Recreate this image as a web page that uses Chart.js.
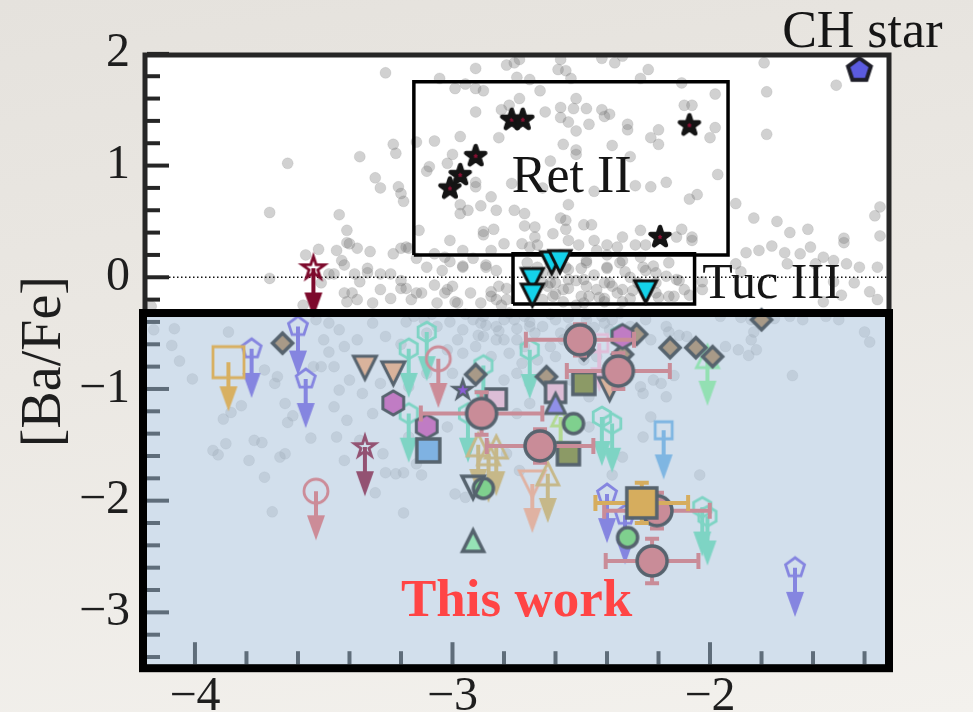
<!DOCTYPE html>
<html>
<head>
<meta charset="utf-8">
<title>[Ba/Fe] versus [Fe/H]</title>
<script src="https://cdn.jsdelivr.net/npm/chart.js@4.4.1/dist/chart.umd.min.js"></script>
<style>
  html, body { margin: 0; padding: 0; }
  body {
    width: 973px; height: 712px; overflow: hidden;
    background: linear-gradient(172deg, #e5e2dd 0%, #ebe8e3 45%, #f3f1ed 100%);
  }
  canvas { display: block; }
</style>
</head>
<body>
<canvas id="chart" width="973" height="712"></canvas>
<script>
// ---------- axes ----------
const xTicks = [-4, -3, -2];
const yTicks = [-3, -2, -1, 0, 1, 2];
const xLimits = [-4.194, -1.305];
const yLimits = [-3.5, 1.99];
const litPanelTop = -0.32;   // upper edge of the literature panel
const arrowLength = 0.44;    // upper-limit arrows, in dex

// ---------- Milky Way halo stars: [Fe/H], [Ba/Fe] ----------
const haloStars = [
  [-3.64,1.02],[-3.71,0.58],
  [-3.26,1.83],[-2.91,1.87],[-2.79,1.90],[-2.76,1.92],[-2.74,1.95],[-2.58,1.95],[-2.59,1.86],[-2.56,1.85],
  [-2.54,1.78],[-2.42,1.96],[-2.37,1.92],[-2.34,1.98],[-2.24,1.86],[-2.27,1.78],[-3.05,1.78],[-2.99,1.69],
  [-2.95,1.73],[-2.91,1.69],[-2.88,1.67],[-2.75,1.79],[-2.70,1.77],[-2.66,1.67],[-2.74,1.60],[-2.78,1.54],
  [-2.81,1.50],[-2.91,1.48],[-2.64,1.48],[-2.58,1.52],[-2.53,1.51],[-2.48,1.51],[-2.52,1.60],[-2.42,1.50],
  [-2.39,1.46],[-2.41,1.44],[-2.58,1.43],[-2.55,1.39],[-2.47,1.37],[-2.52,1.31],[-2.32,1.37],[-2.32,1.32],
  [-2.23,1.25],[-2.20,1.32],[-2.20,1.19],[-2.38,1.18],[-2.57,1.19],[-2.52,1.14],[-2.52,1.10],[-2.97,1.26],
  [-3.07,1.22],[-3.14,1.21],[-3.23,1.19],[-3.22,1.11],[-3.36,1.08],[-3.00,1.10],[-2.82,1.25],[-2.62,1.04],
  [-2.31,1.08],[-3.02,1.02],[-3.09,0.99],[-3.10,0.95],[-3.30,0.89],[-3.28,0.80],[-3.21,0.81],[-3.20,0.75],
  [-3.19,0.68],[-2.91,0.85],[-2.91,0.81],[-2.77,0.84],[-2.65,0.80],[-2.45,0.77],[-2.29,0.82],[-2.23,0.81],
  [-2.85,0.72],[-2.97,0.65],[-2.94,0.60],[-2.89,0.64],[-2.83,0.60],[-2.76,0.60],[-2.72,0.57],[-2.55,0.65],
  [-2.58,0.53],[-2.56,0.51],[-2.49,0.47],[-2.46,0.47],[-2.27,0.42],[-3.44,0.56],[-3.41,0.42],[-3.13,0.42],
  [-2.88,0.41],[-2.84,0.43],[-2.72,0.46],[-2.68,0.45],[-2.56,0.43],
  [-1.79,1.92],[-1.51,1.72],[-1.78,1.66],[-2.11,1.74],[-1.98,1.64],[-2.10,1.54],[-2.07,1.54],[-1.98,1.34],
  [-2.00,1.25],[-1.78,1.28],[-1.97,0.92],[-2.17,0.85],[-2.08,0.70],[-2.05,0.74],[-1.90,0.66],[-1.83,0.53],
  [-1.74,0.50],[-1.69,0.40],[-1.62,0.43],[-1.34,0.63],[-2.11,0.43],[-2.07,0.36],[-1.48,0.35],[-1.34,0.37],
  [-1.36,0.55],
  [-3.57,0.20],[-3.52,0.25],[-3.71,-0.01],[-3.51,-0.05],[-3.58,-0.25],
  [-3.41,0.31],[-3.37,0.26],[-3.43,0.15],[-3.48,0.03],[-3.36,-0.04],[-3.33,0.04],[-3.24,0.03],[-3.20,-0.03],
  [-3.20,0.26],[-3.17,0.26],[-3.41,-0.22],[-3.39,-0.14],[-3.18,-0.10],[-3.14,-0.14],[-3.07,-0.07],[-3.03,-0.14],
  [-3.00,-0.08],[-2.98,-0.23],[-2.96,0.10],[-3.01,0.14],[-3.07,0.21],[-3.01,0.33],[-2.97,0.57],[-4.17,-0.26],
  [-2.88,0.38],[-2.73,0.30],[-2.68,0.36],[-2.61,0.39],[-2.55,0.33],[-2.45,0.33],[-2.40,0.29],[-2.34,0.36],
  [-2.29,0.29],[-2.13,0.36],[-2.07,0.33],[-2.87,0.09],[-2.82,-0.08],[-2.85,-0.17],[-2.79,-0.20],
  [-2.63,-0.08],[-2.60,-0.05],[-2.55,-0.10],[-2.49,-0.02],[-2.44,-0.11],[-2.39,-0.05],[-2.34,-0.11],[-2.55,0.07],
  [-2.48,0.13],[-2.40,0.08],[-2.35,0.13],[-2.26,0.09],[-2.21,0.04],[-2.16,0.13],[-2.13,-0.02],[-2.21,-0.14],
  [-2.16,-0.17],[-2.10,-0.11],[-2.61,-0.17],[-2.50,-0.17],[-2.41,-0.19],[-2.31,-0.19],[-2.65,0.04],[-2.71,0.13],
  [-4.16,-0.47],[-4.08,-0.46],[-4.09,-0.61],[-4.06,-0.75],[-3.87,-0.49],[-4.01,-0.91],[-3.73,-0.83],[-3.68,-0.89],
  [-3.54,-0.80],[-3.51,-0.80],[-3.65,-1.13],[-3.62,-1.24],[-3.64,-1.30],[-3.69,-0.95],[-3.82,-1.15],[-3.89,-1.27],
  [-3.86,-1.21],[-3.55,-1.44],[-3.77,-1.46],[-3.74,-1.48],[-3.93,-1.55],[-3.91,-1.59],[-3.88,-1.49],[-3.67,-1.61],
  [-3.65,-1.58],[-3.79,-1.64],[-3.73,-1.79],[-3.48,-0.67],[-3.50,-0.56],[-3.48,-0.41],[-3.53,-0.38],[-3.70,-2.10],
  [-1.86,0.22],[-1.81,0.24],[-1.76,0.28],[-1.71,0.22],[-1.65,0.21],[-1.61,0.27],[-1.56,0.18],[-1.52,0.15],
  [-1.47,0.12],[-1.48,0.31],[-1.70,0.12],[-1.59,0.12],[-1.42,0.09],[-1.35,0.09],[-1.38,-0.13],[-1.35,-0.20],
  [-1.49,-0.16],[-1.56,-0.22],[-1.44,-0.05],[-1.52,-0.04],[-2.03,-0.11],[-2.03,-0.04],[-2.17,0.01],[-2.12,-0.03],
  [-2.14,-0.17],[-2.08,-0.16],[-1.90,0.12],[-1.88,0.05],
  [-1.96,-0.35],[-1.88,-0.36],[-1.84,-0.38],[-1.75,-0.37],[-1.69,-0.35],[-1.64,-0.38],[-1.55,-0.35],[-1.50,-0.38],
  [-1.40,-0.49],[-1.38,-0.58],[-1.94,-0.62],[-1.89,-0.65],[-1.85,-0.70],[-1.82,-0.65],[-1.84,-0.56],[-1.83,-0.49],
  [-2.12,-0.52],[-2.09,-0.53],[-2.16,-0.49],[-2.17,-0.44],[-2.14,-0.88],[-1.68,-0.88],[-2.17,-1.07],[-2.19,-0.95],
  [-2.04,-1.77],
  [-3.26,-1.75],[-3.19,-1.75],[-3.12,-1.77],[-3.30,-1.93],[-3.19,-2.11],[-2.99,-1.94],[-2.95,-1.97],[-2.38,-1.77],
  [-3.45,0.24],[-3.40,0.30],[-3.32,0.23],[-3.42,0.11],[-3.46,0.03],[-3.38,0.03],[-3.33,0.08],[-3.28,0.03],
  [-3.23,0.21],[-3.18,0.27],[-3.14,0.17],[-3.10,0.09],[-3.04,0.06],[-3.03,0.18],[-2.96,0.24],[-2.96,0.09],
  [-2.92,0.17],[-2.87,0.11],[-2.83,0.06],[-2.80,0.30],[-2.85,0.24],[-2.70,0.27],[-2.67,0.29],[-3.42,-0.14],
  [-3.37,-0.20],[-3.31,-0.23],[-3.28,-0.11],[-3.24,-0.19],[-3.20,-0.10],[-3.16,-0.20],[-3.12,-0.14],[-3.06,-0.23],
  [-3.02,-0.11],[-2.99,-0.22],[-2.93,-0.14],[-2.89,-0.23],[-2.85,-0.13],[-2.83,-0.20],[-2.79,-0.10],[-2.81,-0.25],
  [-2.62,-0.05],[-2.57,-0.11],[-2.52,-0.03],[-2.47,-0.17],[-2.41,-0.05],[-2.36,-0.14],[-2.31,0.00],[-2.25,0.06],
  [-2.21,-0.05],[-2.56,0.09],[-2.48,0.15],[-2.40,0.09],[-2.34,0.15],[-2.27,0.18],[-2.65,-0.20],[-2.57,-0.22],
  [-2.49,-0.23],[-2.41,-0.22],[-2.34,-0.22],[-2.61,0.03],[-2.67,0.09],[-2.51,0.29],[-2.44,0.24],[-2.36,0.27],
  [-2.25,0.29],[-2.60,-0.15],[-2.45,0.02],[-2.38,-0.08],[-2.30,-0.12],[-2.50,0.08],[-2.55,-0.02],[-2.43,-0.18],
  [-2.28,-0.05],[-2.62,0.12],[-2.33,0.05],[-2.48,-0.08],[-2.58,0.20],[-2.40,0.20],[-2.22,0.10],[-2.20,-0.18],
  [-2.52,-0.25],[-2.65,-0.05],
  [-3.44,-0.47],[-3.37,-0.56],[-3.42,-0.62],[-3.31,-0.41],[-3.26,-0.53],[-3.18,-0.40],[-3.11,-0.38],[-3.06,-0.44],
  [-3.01,-0.40],[-2.96,-0.47],[-2.92,-0.38],[-2.87,-0.43],[-2.80,-0.38],[-2.75,-0.46],[-2.70,-0.40],[-2.65,-0.44],
  [-2.60,-0.38],[-2.54,-0.46],[-2.75,-0.56],[-2.83,-0.56],[-2.91,-0.62],[-2.98,-0.56],[-3.02,-0.65],[-2.96,-0.68],
  [-2.85,-0.71],[-2.78,-0.68],[-2.73,-0.77],[-2.67,-0.74],[-2.60,-0.71],[-2.57,-0.56],[-2.49,-0.74],[-2.44,-0.71],
  [-2.38,-0.38],[-2.31,-0.44],[-2.25,-0.38],[-2.23,-0.56],[-3.46,-0.80],[-3.40,-0.92],[-3.44,-1.01],[-3.35,-1.04],
  [-3.28,-0.95],[-3.17,-0.98],[-3.10,-0.86],[-3.00,-0.86],[-2.80,-0.92],[-2.75,-0.86],[-2.70,-0.95],[-2.54,-0.92],
  [-2.47,-0.92],[-2.27,-0.98],[-2.22,-0.92],[-3.46,-1.16],[-3.41,-1.28],[-3.31,-1.22],[-3.45,-1.43],[-3.36,-1.46],
  [-3.27,-1.58],[-3.42,-1.64],[-3.17,-1.43],[-3.02,-1.34],[-2.75,-1.22],[-2.70,-1.13],[-2.47,-1.07],[-2.26,-1.04],
  [-2.23,-1.25],[-2.26,-1.43],[-2.47,-1.34],[-2.79,-1.58],[-2.74,-1.73],[-3.22,-1.76],[-3.14,-1.67],[-2.34,-1.61],
  [-2.95,-0.33],[-2.88,-0.35],[-2.78,-0.32],[-2.72,-0.35],[-2.62,-0.33],[-2.55,-0.36],[-2.48,-0.33],[-2.42,-0.35],
  [-2.35,-0.32],[-3.08,-0.33],[-3.15,-0.35],[-2.68,-0.50],[-2.58,-0.50],[-2.82,-0.48],[-2.50,-0.55],[-2.45,-0.45],
  [-2.72,-0.62],[-2.62,-0.62],[-2.90,-0.52],[-3.10,-0.50],[-3.20,-0.60],
  [-2.89,-0.41],[-2.83,-0.44],[-2.76,-0.38],[-2.70,-0.44],[-2.88,-0.53],[-2.80,-0.56],[-2.48,-0.38],[-2.41,-0.41],
  [-2.39,-0.47]
];

// ---------- ultra-faint dwarfs and the CH star ----------
const retII = [[-2.77,1.41],[-2.727,1.41],[-2.91,1.085],[-2.97,0.915],[-3.01,0.795],[-2.08,1.36],[-2.194,0.36]];
const tucIII = [[-2.615,0.13],[-2.583,0.14],[-2.69,-0.02],[-2.69,-0.16],[-2.25,-0.13]];
const chStar = [[-1.42,1.855]];
const retBox = { feh: [-3.15, -1.93], bafe: [0.20, 1.75] };
const tucBox = { feh: [-2.765, -2.06], bafe: [-0.24, 0.21] };

// ---------- literature upper limits ----------
const limPentagon = [[-3.78,-0.64],[-3.60,-0.44],[-3.57,-0.91],[-2.40,-1.94],[-2.33,-2.13],[-1.67,-2.60]];
const limHexagon = [[-3.10,-0.49],[-3.17,-0.64],[-3.17,-1.22],[-2.94,-1.22],[-2.88,-0.79],[-2.70,-0.65],
                    [-2.42,-1.25],[-2.38,-1.31],[-2.35,-0.52],[-2.03,-2.06],[-2.01,-2.14]];
const limCircle = [[-3.055,-0.73],[-3.53,-1.915]];
const limGoldSquare = [[-3.87,-0.76]];
const limRedStar = [[-3.54,0.08]];
const limMauveStar = [[-3.34,-1.52]];
const limSalmonTri = [[-2.69,-1.85]];
const limKhakiTri = [[-2.63,-1.76],[-2.90,-1.50],[-2.86,-1.58],[-2.83,-1.52]];
const limMintTri = [[-2.01,-0.71]];
const limBlueSquare = [[-2.18,-1.37]];
const limPinkSquare = [[-2.43,-0.59]];
const limLimeTri = [[-2.58,-1.25]];

// ---------- literature detections ----------
const detDiamond = [[-3.66,-0.59],[-2.91,-0.87],[-2.635,-0.89],[-2.285,-0.51],[-2.34,-0.69],[-2.49,-0.65],
                    [-1.80,-0.38],[-2.155,-0.63],[-2.055,-0.63],[-1.99,-0.71]];
const detTanTri = [[-3.34,-0.81],[-3.23,-0.86],[-2.39,-1.00]];
const detHexagon = [[-3.23,-1.125],[-3.10,-1.335],[-2.34,-0.53]];
const detBlueSquare = [[-3.094,-1.55]];
const detPinkSquare = [[-2.83,-1.09],[-2.60,-1.03]];
const detOliveSquare = [[-2.49,-0.95],[-2.55,-1.58]];
const detGreenCircle = [[-2.53,-1.31],[-2.88,-1.89],[-2.32,-2.33]];
const detVioletTri = [[-2.60,-1.13]];
const detGreenTri = [[-2.92,-2.36]];
const detPurpleStar = [[-2.96,-1.01]];
const detOpenTri = [[-2.92,-1.88]];

// ---------- this work ----------
const twFeH = [-2.505, -2.356, -2.887, -2.66, -2.206, -2.225];
const twBaFe = [-0.56, -0.84, -1.22, -1.51, -2.09, -2.54];
const twErrFeH = [0.21, 0.20, 0.236, 0.207, 0.205, 0.18];
const twErrBaFe = [0.14, 0.16, 0.19, 0.15, 0.16, 0.20];
const sqFeH = [-2.265];
const sqBaFe = [-2.02];
const sqErrFeH = [0.18];
const sqErrBaFe = [0.18];

// ---------- labels ----------
const labelCH = { text: 'CH star', feh: -1.72, bafe: 2.06 };
const labelRet = { text: 'Ret II', feh: -2.77, bafe: 0.765 };
const labelTuc = { text: 'Tuc III', feh: -2.03, bafe: -0.19 };
const labelWork = { text: 'This work', feh: -3.20, bafe: -3.03 };

// ---------- marker glyphs ----------
const EDGE = '#56636e';
function glyph(shape, r, fill, edge, lw, join) {
  const pad = Math.ceil(lw || 0) + 2;
  const size = Math.ceil(2 * (r + pad));
  const c = document.createElement('canvas');
  c.width = size; c.height = size;
  const g = c.getContext('2d');
  g.translate(size / 2, size / 2);
  g.beginPath();
  const poly = (n) => {
    for (let i = 0; i < n; i++) {
      const a = -Math.PI / 2 + i * 2 * Math.PI / n;
      const px = r * Math.cos(a), py = r * Math.sin(a);
      if (i) g.lineTo(px, py); else g.moveTo(px, py);
    }
  };
  if (shape === 'circle') g.arc(0, 0, r, 0, 2 * Math.PI);
  else if (shape === 'square') g.rect(-r, -r, 2 * r, 2 * r);
  else if (shape === 'diamond') { g.moveTo(0, -r); g.lineTo(r, 0); g.lineTo(0, r); g.lineTo(-r, 0); }
  else if (shape === 'up') { g.moveTo(0, -r); g.lineTo(r, r); g.lineTo(-r, r); }
  else if (shape === 'down') { g.moveTo(0, r); g.lineTo(r, -r); g.lineTo(-r, -r); }
  else if (shape === 'pentagon') poly(5);
  else if (shape === 'hexagon') poly(6);
  else if (shape === 'star') {
    for (let i = 0; i < 10; i++) {
      const a = -Math.PI / 2 + i * Math.PI / 5;
      const rr = i % 2 ? r * 0.382 : r;
      const px = rr * Math.cos(a), py = rr * Math.sin(a);
      if (i) g.lineTo(px, py); else g.moveTo(px, py);
    }
  }
  g.closePath();
  if (fill) { g.fillStyle = fill; g.fill(); }
  if (edge && lw) { g.lineJoin = join || 'miter'; g.lineWidth = lw; g.strokeStyle = edge; g.stroke(); }
  return c;
}
function arrowHead(color) {
  const w = 18, h = 25;
  const c = document.createElement('canvas');
  c.width = w + 2; c.height = 2 * h + 2;
  const g = c.getContext('2d');
  g.translate(c.width / 2, c.height / 2);
  g.beginPath(); g.moveTo(-w / 2, -h); g.lineTo(w / 2, -h); g.lineTo(0, 0); g.closePath();
  g.fillStyle = color; g.fill();
  return c;
}

// ---------- dataset builders ----------
const toXY = (arr) => arr.map(([x, y]) => ({ x, y }));
function markerSet(arr, order, img, r) {
  return { data: toXY(arr), order, showLine: false, pointStyle: img, pointRadius: r, pointHoverRadius: r };
}
function lineSet(data, order, color, width, dash) {
  return { data, order, showLine: true, spanGaps: false, pointRadius: 0, pointHoverRadius: 0,
           borderColor: color, borderWidth: width, borderDash: dash || [], fill: false,
           borderCapStyle: 'butt', borderJoinStyle: 'miter' };
}
function capSet(data, order, color, r, rot) {
  return { data, order, showLine: false, pointStyle: 'line', pointRadius: r, pointHoverRadius: r,
           pointRotation: rot, pointBorderColor: color, pointBorderWidth: 4, pointBackgroundColor: color };
}
function limitSets(arr, order, color, shape, r) {
  const stem = [];
  arr.forEach(([x, y]) => { stem.push({ x, y }, { x, y: y - arrowLength + 0.1 }, { x, y: null }); });
  const tips = arr.map(([x, y]) => ({ x, y: y - arrowLength }));
  return [
    lineSet(stem, order, color, 4),
    { data: tips, order: order - 0.1, showLine: false, pointStyle: arrowHead(color), pointRadius: 12 },
    markerSet(arr, order - 0.2, glyph(shape, r, null, color, 2.8), r)
  ];
}
function boxLine(box) {
  const [x0, x1] = box.feh, [y0, y1] = box.bafe;
  return [{ x: x0, y: y0 }, { x: x1, y: y0 }, { x: x1, y: y1 }, { x: x0, y: y1 }, { x: x0, y: y0 }];
}
function errorSets(xs, ys, exs, eys, color, order) {
  const h = [], v = [], hc = [], vc = [];
  xs.forEach((x, i) => {
    const y = ys[i];
    h.push({ x: x - exs[i], y }, { x: x + exs[i], y }, { x, y: null });
    v.push({ x, y: y - eys[i] }, { x, y: y + eys[i] }, { x, y: null });
    hc.push({ x: x - exs[i], y }, { x: x + exs[i], y });
    vc.push({ x, y: y - eys[i] }, { x, y: y + eys[i] });
  });
  return [lineSet(h, order, color, 4), lineSet(v, order, color, 4),
          capSet(hc, order - 0.1, color, 8, 90), capSet(vc, order - 0.1, color, 7, 0)];
}

const datasets = [];
datasets.push({ role: 'field', data: toXY(haloStars), order: 100, showLine: false,
  pointStyle: 'circle', pointRadius: 5.5, pointHoverRadius: 5.5,
  pointBackgroundColor: 'rgba(115,115,115,0.33)', pointBorderColor: 'rgba(100,100,100,0.12)', pointBorderWidth: 1 });
datasets.push(lineSet([{ x: xLimits[0], y: 0 }, { x: xLimits[1], y: 0 }], 95, '#111', 1.3, [1.5, 2.5]));
datasets.push(lineSet(boxLine(retBox), 90, '#000', 3.5));
datasets.push(lineSet(boxLine(tucBox), 90, '#000', 3.5));

const limitFamilies = [
  [limPentagon, '#8585e0', 'pentagon', 10],
  [limHexagon, '#7ed4c4', 'hexagon', 10],
  [limCircle, '#cc8c98', 'circle', 12],
  [limGoldSquare, '#d8b062', 'square', 15.5],
  [limRedStar, '#7d0a2c', 'star', 12],
  [limMauveStar, '#935272', 'star', 11],
  [limSalmonTri, '#e0b2a2', 'down', 13],
  [limKhakiTri, '#c6b889', 'up', 11],
  [limMintTri, '#93e0b3', 'up', 11],
  [limBlueSquare, '#7fb6e2', 'square', 8.5],
  [limPinkSquare, '#e0bdd8', 'square', 8.5],
  [limLimeTri, '#b2d992', 'up', 9]
];
limitFamilies.forEach(([arr, color, shape, r], i) => {
  limitSets(arr, 70 - i, color, shape, r).forEach(d => datasets.push(d));
});

datasets.push(markerSet(detDiamond, 40, glyph('diamond', 10, '#a89a88', EDGE, 3.5), 10));
datasets.push(markerSet(detTanTri, 39, glyph('down', 11.5, '#d9b39c', EDGE, 3), 11.5));
datasets.push(markerSet(detHexagon, 38, glyph('hexagon', 12, '#c07cc4', EDGE, 3), 12));
datasets.push(markerSet(detBlueSquare, 37, glyph('square', 11.5, '#7fb2e2', EDGE, 3.5), 11.5));
datasets.push(markerSet(detPinkSquare, 36, glyph('square', 10, '#dcbdd6', EDGE, 3.5), 10));
datasets.push(markerSet(detOliveSquare, 35, glyph('square', 11, '#8c9a66', EDGE, 3.5), 11));
datasets.push(markerSet(detGreenCircle, 34, glyph('circle', 10, '#7fd08e', EDGE, 3.5), 10));
datasets.push(markerSet(detVioletTri, 33, glyph('up', 10, '#9090e8', EDGE, 3), 10));
datasets.push(markerSet(detGreenTri, 32, glyph('up', 10.5, '#96e2b6', EDGE, 3.5), 10.5));
datasets.push(markerSet(detPurpleStar, 31, glyph('star', 10, '#8b5cd6', EDGE, 2.5), 10));
datasets.push(markerSet(detOpenTri, 30, glyph('down', 11, null, EDGE, 3.5), 11));

datasets.push(markerSet(tucIII, 22, glyph('down', 11, '#14d2ea', '#111', 3), 11));
datasets.push(markerSet(retII, 21, glyph('star', 10, '#8b0f33', '#141414', 4.5, 'round'), 10));
datasets.push(markerSet(chStar, 20, glyph('pentagon', 12, '#5b5be0', '#1e1e28', 4), 12));

errorSets(twFeH, twBaFe, twErrFeH, twErrBaFe, '#c98c98', 12).forEach(d => datasets.push(d));
datasets.push(markerSet(twFeH.map((x, i) => [x, twBaFe[i]]), 10, glyph('circle', 15, '#c98c98', EDGE, 3.5), 15));
errorSets(sqFeH, sqBaFe, sqErrFeH, sqErrBaFe, '#d6ad5e', 8).forEach(d => datasets.push(d));
datasets.push(markerSet(sqFeH.map((x, i) => [x, sqBaFe[i]]), 6, glyph('square', 15, '#d6ad5e', EDGE, 3.5), 15));

// ---------- panels, ticks and annotations ----------
const panelPlugin = {
  id: 'panels',
  beforeDraw(chart) {
    const { ctx, chartArea: a } = chart;
    ctx.save();
    ctx.fillStyle = '#ffffff';
    ctx.fillRect(a.left, a.top, a.right - a.left, a.bottom - a.top);
    ctx.restore();
  },
  afterDatasetDraw(chart, args) {
    if (chart.data.datasets[args.index].role !== 'field') return;
    const { ctx, chartArea: a, scales: { y } } = chart;
    const top = y.getPixelForValue(litPanelTop);
    ctx.save();
    ctx.fillStyle = 'rgba(182, 203, 225, 0.62)';
    ctx.fillRect(a.left, top, a.right - a.left, a.bottom - top);
    ctx.restore();
  },
  afterDatasetsDraw(chart) {
    const { ctx, chartArea: a, scales: { x, y } } = chart;
    const top = y.getPixelForValue(litPanelTop);
    ctx.save();
    ctx.lineCap = 'butt';
    ctx.lineWidth = 4;
    for (let k = 20; k >= -34; k -= 2) {
      const v = k / 10;
      const py = y.getPixelForValue(v);
      if (Math.abs(py - top) < 7) continue;
      ctx.strokeStyle = v < litPanelTop ? '#5f6d7a' : '#262626';
      const len = k % 10 === 0 ? 22 : 13;
      ctx.beginPath(); ctx.moveTo(a.left + 2, py); ctx.lineTo(a.left + 2 + len, py); ctx.stroke();
    }
    ctx.strokeStyle = '#5f6d7a';
    for (let k = -40; k <= -14; k += 2) {
      const px = x.getPixelForValue(k / 10);
      const len = k % 10 === 0 ? 22 : 13;
      ctx.beginPath(); ctx.moveTo(px, a.bottom - 4); ctx.lineTo(px, a.bottom - 4 - len); ctx.stroke();
    }
    ctx.lineJoin = 'miter';
    ctx.strokeStyle = '#262626';
    ctx.lineWidth = 5;
    ctx.beginPath();
    ctx.moveTo(a.left, top); ctx.lineTo(a.left, a.top); ctx.lineTo(a.right, a.top); ctx.lineTo(a.right, top);
    ctx.stroke();
    ctx.strokeStyle = '#000000';
    ctx.lineWidth = 8;
    ctx.strokeRect(a.left - 2, top, a.right - a.left + 2, a.bottom - top);
    ctx.restore();
  },
  afterDraw(chart) {
    const { ctx, scales: { x, y } } = chart;
    ctx.save();
    ctx.textAlign = 'left';
    ctx.textBaseline = 'alphabetic';
    ctx.fillStyle = '#151515';
    ctx.font = '52px "Liberation Serif"';
    ctx.fillText(labelCH.text, x.getPixelForValue(labelCH.feh), y.getPixelForValue(labelCH.bafe));
    ctx.fillText(labelRet.text, x.getPixelForValue(labelRet.feh), y.getPixelForValue(labelRet.bafe));
    ctx.font = '50px "Liberation Serif"';
    ctx.fillText(labelTuc.text, x.getPixelForValue(labelTuc.feh), y.getPixelForValue(labelTuc.bafe));
    ctx.fillStyle = '#ff4545';
    ctx.font = 'bold 53px "Liberation Serif"';
    ctx.fillText(labelWork.text, x.getPixelForValue(labelWork.feh), y.getPixelForValue(labelWork.bafe));
    ctx.restore();
  }
};

const fmt = (v) => (v < 0 ? '\u2212' + Math.abs(v) : String(v));

new Chart(document.getElementById('chart'), {
  type: 'scatter',
  data: { datasets },
  options: {
    responsive: false,
    devicePixelRatio: 1,
    animation: false,
    events: [],
    layout: { padding: { top: 55, right: 84, left: 0, bottom: 0 } },
    plugins: { legend: { display: false }, tooltip: { enabled: false } },
    scales: {
      x: {
        type: 'linear', min: xLimits[0], max: xLimits[1],
        grid: { display: false, drawTicks: false }, border: { display: false },
        afterBuildTicks: (s) => { s.ticks = xTicks.map(v => ({ value: v })); },
        afterFit: (s) => { s.height = 43; },
        ticks: { autoSkip: false, maxRotation: 0, padding: 0, color: '#1e1e1e',
                 font: { family: 'Liberation Serif', size: 48 }, callback: fmt }
      },
      y: {
        type: 'linear', min: yLimits[0], max: yLimits[1],
        grid: { display: false, drawTicks: false }, border: { display: false },
        afterBuildTicks: (s) => { s.ticks = yTicks.map(v => ({ value: v })); },
        afterFit: (s) => { s.width = 145; },
        ticks: { autoSkip: false, padding: 15, color: '#1e1e1e',
                 font: { family: 'Liberation Serif', size: 48 }, callback: fmt },
        title: { display: true, text: '[Ba/Fe]', color: '#1e1e1e',
                 font: { family: 'Liberation Serif', size: 56, lineHeight: 1.2 },
                 padding: { top: 12, bottom: 0 } }
      }
    }
  },
  plugins: [panelPlugin]
});
</script>
</body>
</html>
